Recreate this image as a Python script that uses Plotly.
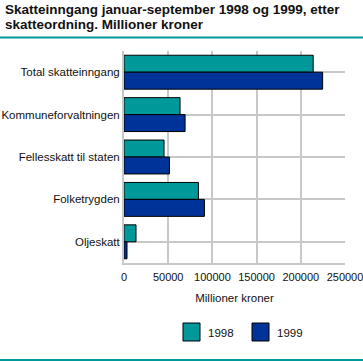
import plotly.graph_objects as go

categories = ["Total skatteinngang", "Kommuneforvaltningen", "Fellesskatt til staten", "Folketrygden", "Oljeskatt"]
values_1998 = [214000, 63400, 45300, 84200, 13600]
values_1999 = [224700, 69100, 51400, 91000, 3400]
x_ticks = [0, 50000, 100000, 150000, 200000, 250000]
series_names = ["1998", "1999"]

TEAL = "#009999"
BLUE = "#003399"
GRID = "#c8c8c8"
FONT = "Liberation Sans"

L, R, T, B = 124, 18, 51, 98
W, H = 363, 361
PW, PH = W - L - R, H - T - B

def px_x(x):
    return (x - L) / PW

def px_y(y):
    return (H - B - y) / PH

fig = go.Figure()
fig.add_trace(go.Bar(y=categories, x=values_1998, name=series_names[0], orientation="h",
                     marker=dict(color=TEAL, line=dict(color="black", width=1))))
fig.add_trace(go.Bar(y=categories, x=values_1999, name=series_names[1], orientation="h",
                     marker=dict(color=BLUE, line=dict(color="black", width=1))))

annotations = [
    dict(text="<b>Skatteinngang januar-september 1998 og 1999, etter</b>", xref="paper", yref="paper",
         x=px_x(3), y=px_y(9.5), xanchor="left", yanchor="middle", showarrow=False,
         font=dict(family=FONT, size=13.5, color="#111111")),
    dict(text="<b>skatteordning. Millioner kroner</b>", xref="paper", yref="paper",
         x=px_x(3), y=px_y(25), xanchor="left", yanchor="middle", showarrow=False,
         font=dict(family=FONT, size=13.5, color="#111111")),
]
shapes = [
    dict(type="line", xref="paper", yref="paper", x0=px_x(0), x1=px_x(W),
         y0=px_y(37.5), y1=px_y(37.5), line=dict(color=TEAL, width=2)),
    dict(type="line", xref="paper", yref="paper", x0=px_x(0), x1=px_x(W),
         y0=px_y(360), y1=px_y(360), line=dict(color=TEAL, width=2)),
]
# manual legend
for i, (name, col) in enumerate(zip(series_names, [TEAL, BLUE])):
    x0 = 183 + i * 69
    shapes.append(dict(type="rect", xref="paper", yref="paper", x0=px_x(x0), x1=px_x(x0 + 17),
                       y0=px_y(323), y1=px_y(341), fillcolor=col, line=dict(color="black", width=1)))
    annotations.append(dict(text=name, xref="paper", yref="paper", x=px_x(x0 + 23), y=px_y(332.5),
                            xanchor="left", yanchor="middle", showarrow=False,
                            font=dict(family=FONT, size=11.5, color="#111111")))

fig.update_layout(
    width=W, height=H,
    margin=dict(l=L, r=R, t=T, b=B),
    paper_bgcolor="white", plot_bgcolor="white",
    barmode="group", bargap=0.2, bargroupgap=0,
    font=dict(family=FONT, size=11.5, color="#111111"),
    showlegend=False,
    xaxis=dict(range=[0, 250000.5], tickvals=x_ticks, ticktext=[str(v) for v in x_ticks],
               showgrid=True, gridcolor=GRID, gridwidth=2, zeroline=False,
               showline=True, linecolor=GRID, linewidth=2, automargin=False,
               tickfont=dict(size=11), ticklabeloverflow="allow", ticklabelstandoff=3,
               title=dict(text="Millioner kroner", font=dict(size=11.5), standoff=12),
               ticks="", fixedrange=True),
    yaxis=dict(autorange="reversed", showgrid=True, gridcolor=GRID, gridwidth=2, automargin=False,
               showline=True, linecolor=GRID, linewidth=2, ticks="", ticklen=0, fixedrange=True),
    shapes=shapes,
    annotations=annotations,
)

fig.write_html("out.html", config={"displayModeBar": False},
               post_script="document.body.style.margin='0';")
